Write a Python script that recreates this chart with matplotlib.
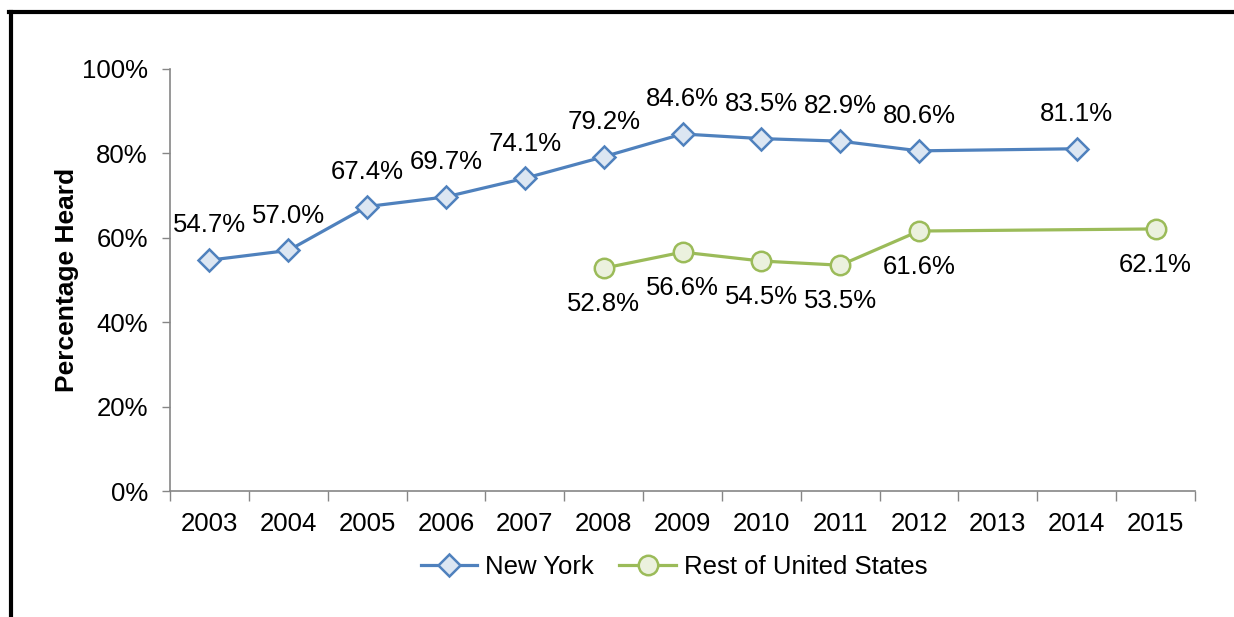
import numpy as np
import matplotlib.pyplot as plt
from matplotlib.lines import Line2D

plt.rcParams['font.family'] = ['Liberation Sans', 'DejaVu Sans']

years = ['2003', '2004', '2005', '2006', '2007', '2008', '2009',
         '2010', '2011', '2012', '2013', '2014', '2015']
new_york = [54.7, 57.0, 67.4, 69.7, 74.1, 79.2, 84.6, 83.5, 82.9, 80.6, None, 81.1, None]
rest_us = [None, None, None, None, None, 52.8, 56.6, 54.5, 53.5, 61.6, None, None, 62.1]

fig = plt.figure(figsize=(12.34, 6.17), dpi=100)
ax = fig.add_axes([0.1378, 0.2042, 0.8306, 0.684])

def draw(vals, color, face, marker, ms, label, offset):
    idx = [i for i, v in enumerate(vals) if v is not None]
    ys = [vals[i] for i in idx]
    ax.plot(idx, ys, color=color, lw=2.3, marker=marker, ms=ms,
            mfc=face, mec=color, mew=1.8, label=label, zorder=3)
    for i, v in zip(idx, ys):
        ax.annotate(f'{v:.1f}%', (i, v), xytext=(0, offset), textcoords='offset points',
                    ha='center', va='center', fontsize=18.5, color='black')

draw(new_york, '#4F81BD', '#DCE6F2', 'D', 11.5, 'New York', 25)
draw(rest_us, '#9BBB59', '#EBF1DE', 'o', 14, 'Rest of United States', -26)

ax.set_xlim(-0.5, len(years) - 0.5)
ax.set_ylim(0, 100)
ax.set_yticks(np.arange(0, 101, 20))
ax.set_yticklabels([f'{v}%' for v in range(0, 101, 20)])
ax.set_xticks(range(len(years)))
ax.set_xticklabels(years)
ax.set_xticks(np.arange(-0.5, len(years), 1), minor=True)
ax.tick_params(axis='x', which='major', length=0, pad=15, labelsize=18.5)
ax.tick_params(axis='x', which='minor', length=7, width=1, color='#868686', direction='out')
ax.tick_params(axis='y', length=6, width=1, color='#868686', pad=10, labelsize=18.5)

for s in ['top', 'right']:
    ax.spines[s].set_visible(False)
for s in ['left', 'bottom']:
    ax.spines[s].set_color('#868686')
    ax.spines[s].set_linewidth(1.2)

ax.set_ylabel('Percentage Heard', fontsize=19, fontweight='bold')
ax.yaxis.set_label_coords(-0.0888, 0.5)

fig.legend(loc='center', bbox_to_anchor=(674 / 1234, 1 - 567 / 617), ncol=2,
           frameon=False, fontsize=18.5, handlelength=2.2, columnspacing=1.0,
           handletextpad=0.3)

# frame around the chart
fig.add_artist(Line2D([9 / 1234, 1], [1 - 12 / 617] * 2, color='black', lw=3,
                      transform=fig.transFigure))
fig.add_artist(Line2D([11 / 1234] * 2, [0, 1 - 12 / 617], color='black', lw=3,
                      transform=fig.transFigure))

fig.savefig('out.png', dpi=100)
